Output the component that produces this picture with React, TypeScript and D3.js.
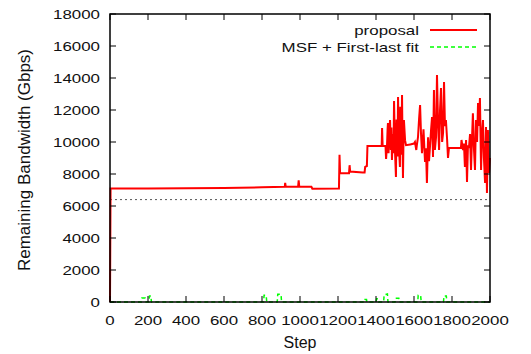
import React, { useEffect, useRef } from "react";
import * as d3 from "d3";

// proposal series: [step, remaining bandwidth]
const proposalSteps = [
  0, 3, 200, 400, 600, 800, 920, 922, 925, 990, 993, 996, 1060, 1065, 1205, 1208, 1211, 1258, 1261, 1264,
  1330, 1340, 1343, 1352, 1355, 1430, 1432, 1435, 1450, 1453, 1458, 1461, 1463, 1466, 1470, 1474, 1478, 1481,
  1484, 1489, 1492, 1495, 1500, 1505, 1508, 1510, 1513, 1516, 1521, 1526, 1528, 1531, 1534, 1537, 1540, 1542,
  1545, 1547, 1553, 1558, 1580, 1600, 1605, 1612, 1615, 1621, 1627, 1632, 1637, 1642, 1650, 1658, 1663, 1668,
  1674, 1679, 1684, 1690, 1695, 1700, 1705, 1710, 1716, 1721, 1727, 1732, 1737, 1742, 1748, 1753, 1758, 1763,
  1768, 1774, 1779, 1784, 1847, 1850, 1858, 1863, 1868, 1874, 1879, 1884, 1889, 1895, 1900, 1905, 1910, 1915,
  1921, 1926, 1932, 1937, 1942, 1947, 1953, 1958, 1963, 1968, 1974, 1979, 1984, 1989, 1995, 2000,
];
const proposalValues = [
  0, 7100, 7100, 7110, 7130, 7170, 7200, 7450, 7200, 7200, 7600, 7220, 7200, 7080, 7100, 9200, 8050, 8050, 8550, 8150,
  8100, 8100, 8450, 8500, 9750, 9750, 10870, 9750, 9750, 8940, 9800, 10800, 11190, 9300, 10600, 11375, 9500, 10900,
  8875, 10500, 9300, 12560, 9400, 7810, 11400, 10200, 9100, 12810, 9600, 8440, 12200, 11000, 9200, 12940, 9500, 7750,
  10400, 11375, 10100, 9800, 9850, 9900, 10000, 9500, 9800, 10300, 11500, 12310, 10500, 9300, 10800, 8750, 9600, 7440,
  10300, 8800, 9690, 10800, 11560, 9060, 13250, 9500, 10300, 14190, 11000, 9500, 12000, 13375, 10000, 10560, 13750, 11000,
  11375, 10200, 9000, 9625, 9625, 10125, 9500, 9900, 8440, 10125, 7500, 9800, 9625, 10500, 8250, 10125, 11800, 9700,
  8250, 11375, 10000, 12440, 11000, 12750, 8250, 10500, 11375, 9000, 7440, 10940, 6810, 10750, 8060, 9000,
];

// MSF + First-last fit series
const msfSteps = [
  0, 165, 168, 185, 190, 205, 208, 215, 218, 808, 811, 822, 825, 880, 883, 900, 903, 1340, 1342, 1350, 1352,
  1400, 1403, 1412, 1415, 1440, 1443, 1460, 1463, 1500, 1502, 1520, 1523, 1620, 1622, 1635, 1638, 1755, 1758,
  1770, 1773, 2000,
];
const msfValues = [
  0, 0, 250, 250, 0, 0, 380, 380, 0, 0, 420, 420, 0, 0, 480, 480, 0, 0, 150, 150, 0,
  0, 200, 200, 0, 0, 450, 500, 0, 0, 230, 230, 0, 0, 420, 400, 0, 0, 380,
  380, 0, 0,
];

const xTicks = [0, 200, 400, 600, 800, 1000, 1200, 1400, 1600, 1800, 2000];
const yTicks = [0, 2000, 4000, 6000, 8000, 10000, 12000, 14000, 16000, 18000];
const thresholdValue = 6400;
const legendLabels = ["proposal", "MSF + First-last fit"];

const FONT = "'Liberation Sans', Arial, Helvetica, sans-serif";

function App() {
  const svgRef = useRef(null);
  const svgWidth = 531;
  const svgHeight = 354;

  useEffect(() => {
    const svg = d3.select(svgRef.current);
    svg.selectAll("*").remove();

    const x = d3.scaleLinear().domain([0, 2000]).range([110, 490]);
    const y = d3.scaleLinear().domain([0, 18000]).range([302, 14]);

    const stretched = (tx, ty, anchor, txt) =>
      svg
        .append("text")
        .attr("transform", `translate(${tx},${ty}) scale(1.3,1)`)
        .attr("text-anchor", anchor)
        .style("font-family", FONT)
        .style("font-size", "13px")
        .attr("fill", "#111")
        .text(txt);

    // threshold
    svg
      .append("line")
      .attr("x1", x(0))
      .attr("x2", x(2000))
      .attr("y1", y(thresholdValue))
      .attr("y2", y(thresholdValue))
      .attr("stroke", "#555")
      .attr("stroke-width", 1)
      .attr("stroke-dasharray", "2,3");

    const line = d3
      .line()
      .x((d) => x(d[0]))
      .y((d) => y(d[1]));

    const msfData = msfSteps.map((s, i) => [s, msfValues[i]]);
    const propData = proposalSteps.map((s, i) => [s, proposalValues[i]]);

    svg
      .append("path")
      .datum(msfData)
      .attr("d", line)
      .attr("fill", "none")
      .attr("stroke", "#00ff00")
      .attr("stroke-width", 1.5)
      .attr("stroke-dasharray", "4,3");

    svg
      .append("path")
      .datum(propData)
      .attr("d", line)
      .attr("fill", "none")
      .attr("stroke", "#ff0000")
      .attr("stroke-width", 2);

    // ticks on all four sides, pointing inward
    const tickLen = 6;
    const axes = svg.append("g").attr("stroke", "#000").attr("stroke-width", 1);
    xTicks.forEach((t) => {
      axes.append("line").attr("x1", x(t)).attr("x2", x(t)).attr("y1", y(0)).attr("y2", y(0) - tickLen);
      axes.append("line").attr("x1", x(t)).attr("x2", x(t)).attr("y1", y(18000)).attr("y2", y(18000) + tickLen);
      stretched(x(t), 325, "middle", String(t));
    });
    yTicks.forEach((t) => {
      axes.append("line").attr("x1", x(0)).attr("x2", x(0) + tickLen).attr("y1", y(t)).attr("y2", y(t));
      axes.append("line").attr("x1", x(2000)).attr("x2", x(2000) - tickLen).attr("y1", y(t)).attr("y2", y(t));
      stretched(100, y(t) + 4.7, "end", String(t));
    });

    svg
      .append("rect")
      .attr("x", x(0))
      .attr("y", y(18000))
      .attr("width", x(2000) - x(0))
      .attr("height", y(0) - y(18000))
      .attr("fill", "none")
      .attr("stroke", "#000")
      .attr("stroke-width", 1.5);

    // axis labels
    svg
      .append("text")
      .attr("x", 300)
      .attr("y", 348)
      .attr("text-anchor", "middle")
      .style("font-family", FONT)
      .style("font-size", "16px")
      .attr("fill", "#111")
      .text("Step");

    svg
      .append("text")
      .attr("transform", "translate(30,160) rotate(-90)")
      .attr("text-anchor", "middle")
      .style("font-family", FONT)
      .style("font-size", "17px")
      .attr("fill", "#111")
      .text("Remaining Bandwidth (Gbps)");

    // legend
    stretched(419, 35, "end", legendLabels[0]);
    stretched(419, 52, "end", legendLabels[1]);
    svg
      .append("line")
      .attr("x1", 430)
      .attr("x2", 477)
      .attr("y1", 30)
      .attr("y2", 30)
      .attr("stroke", "#ff0000")
      .attr("stroke-width", 2);
    svg
      .append("line")
      .attr("x1", 430)
      .attr("x2", 477)
      .attr("y1", 47)
      .attr("y2", 47)
      .attr("stroke", "#00ff00")
      .attr("stroke-width", 1.5)
      .attr("stroke-dasharray", "4,3");
  }, []);

  return (
    <div>
      <svg
        ref={svgRef}
        width={svgWidth}
        height={svgHeight}
        style={{ position: "absolute", left: 0, top: 0, background: "#fff" }}
      ></svg>
    </div>
  );
}

export default App;
